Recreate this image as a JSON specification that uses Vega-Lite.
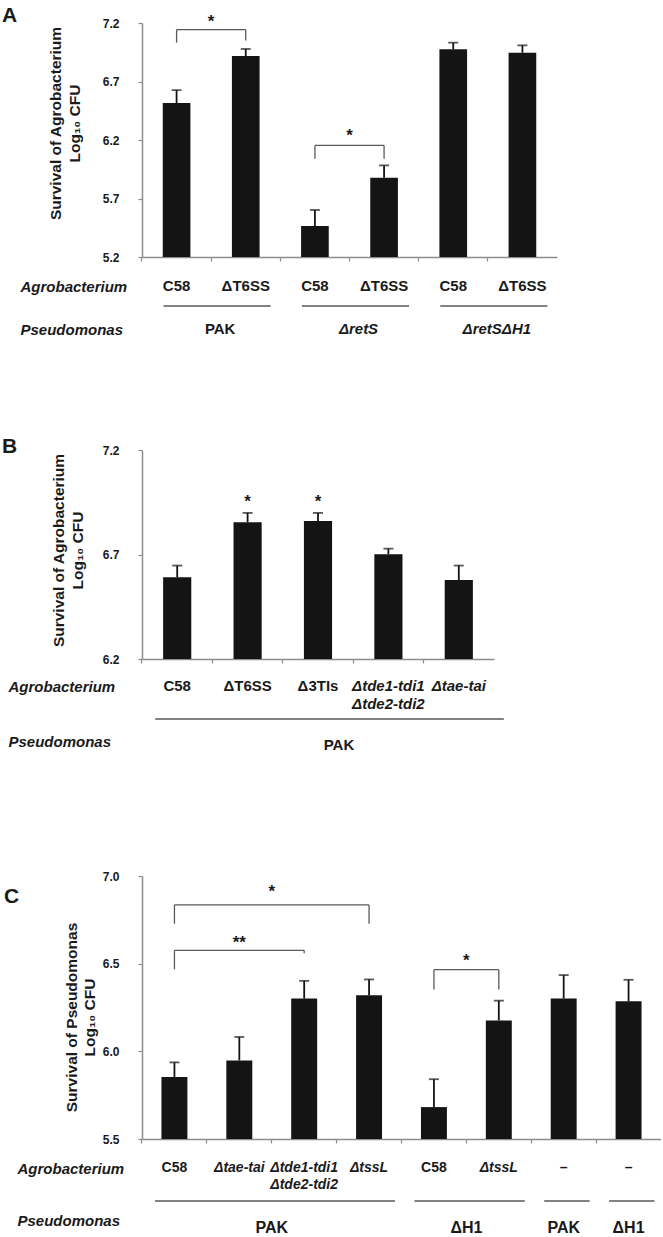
{
  "$schema": "https://vega.github.io/schema/vega-lite/v6.json",
  "background": "white",
  "padding": {"left": 2, "top": 5, "right": 0, "bottom": 0},
  "autosize": {"type": "pad"},
  "bounds": "flush",
  "spacing": 193,
  "config": {
    "font": "Liberation Sans",
    "view": {"stroke": null},
    "axis": {"domainColor": "#8c8c8c", "domainWidth": 1.5, "tickColor": "#8c8c8c", "tickWidth": 1.2, "tickSize": 4, "grid": false, "labelFont": "Liberation Sans", "labelFontSize": 12, "labelFontWeight": "bold", "labelColor": "#1a1a1a", "labelPadding": 19, "titleFont": "Liberation Sans", "titleFontSize": 15.5, "titleFontWeight": "bold", "titleColor": "#1a1a1a"},
    "text": {"font": "Liberation Sans", "fontWeight": "bold", "fontSize": 15, "color": "#1a1a1a"}
  },
  "datasets": {
    "barsA": [
      {"cat": "A1", "label": "C58", "value": 6.516, "upper": 6.627},
      {"cat": "A2", "label": "ΔT6SS", "value": 6.918, "upper": 6.978},
      {"cat": "A3", "label": "C58", "value": 5.465, "upper": 5.602},
      {"cat": "A4", "label": "ΔT6SS", "value": 5.878, "upper": 5.983},
      {"cat": "A5", "label": "C58", "value": 6.975, "upper": 7.032},
      {"cat": "A6", "label": "ΔT6SS", "value": 6.946, "upper": 7.009}
    ],
    "groupsA": [
      {"group": "PAK", "first": "A1", "last": "A2", "mid": "A1", "span": 2},
      {"group": "ΔretS", "first": "A3", "last": "A4", "mid": "A3", "span": 2},
      {"group": "ΔretSΔH1", "first": "A5", "last": "A6", "mid": "A5", "span": 2}
    ],
    "sigA": [
      {"from": "A1", "to": "A2", "mid": "A1", "span": 2, "top": 7.143, "footL": 7.032, "footR": 7.05, "star": "*", "starY": 7.162},
      {"from": "A3", "to": "A4", "mid": "A3", "span": 2, "top": 6.154, "footL": 6.04, "footR": 6.04, "star": "*", "starY": 6.193}
    ],
    "barsB": [
      {"cat": "B1", "label": "C58", "value": 6.591, "upper": 6.647},
      {"cat": "B2", "label": "ΔT6SS", "value": 6.854, "upper": 6.899},
      {"cat": "B3", "label": "Δ3TIs", "value": 6.86, "upper": 6.899},
      {"cat": "B4", "label": "Δtde1-tdi1\nΔtde2-tdi2", "value": 6.701, "upper": 6.728},
      {"cat": "B5", "label": "Δtae-tai", "value": 6.578, "upper": 6.647}
    ],
    "groupsB": [
      {"group": "PAK", "first": "B1", "last": "B5", "mid": "B3", "span": 5}
    ],
    "sigB": [
      {"mid": "B2", "span": 1, "star": "*", "starY": 6.925},
      {"mid": "B3", "span": 1, "star": "*", "starY": 6.925}
    ],
    "barsC": [
      {"cat": "C1", "label": "C58", "value": 5.854, "upper": 5.937},
      {"cat": "C2", "label": "Δtae-tai", "value": 5.948, "upper": 6.082},
      {"cat": "C3", "label": "Δtde1-tdi1\nΔtde2-tdi2", "value": 6.301, "upper": 6.402},
      {"cat": "C4", "label": "ΔtssL", "value": 6.32, "upper": 6.41},
      {"cat": "C5", "label": "C58", "value": 5.682, "upper": 5.841},
      {"cat": "C6", "label": "ΔtssL", "value": 6.176, "upper": 6.289},
      {"cat": "C7", "label": "–", "value": 6.301, "upper": 6.435},
      {"cat": "C8", "label": "–", "value": 6.285, "upper": 6.408}
    ],
    "groupsC": [
      {"group": "PAK", "first": "C1", "last": "C4", "mid": "C2", "span": 4},
      {"group": "ΔH1", "first": "C5", "last": "C6", "mid": "C5", "span": 2},
      {"group": "PAK", "first": "C7", "last": "C7", "mid": "C7", "span": 1},
      {"group": "ΔH1", "first": "C8", "last": "C8", "mid": "C8", "span": 1}
    ],
    "sigC": [
      {"from": "C1", "to": "C4", "mid": "C2", "span": 4, "top": 6.835, "footL": 6.728, "footR": 6.728, "star": "*", "starY": 6.881},
      {"from": "C1", "to": "C3", "mid": "C2", "span": 3, "top": 6.576, "footL": 6.468, "footR": 6.56, "star": "**", "starY": 6.592},
      {"from": "C5", "to": "C6", "mid": "C5", "span": 2, "top": 6.466, "footL": 6.353, "footR": 6.353, "star": "*", "starY": 6.484}
    ]
  },
  "vconcat": [
    {
      "width": 415,
      "height": 234,
      "title": {"text": "A", "anchor": "start", "frame": "group", "orient": "top", "offset": 0, "dx": -140, "dy": 30, "baseline": "alphabetic", "align": "left", "fontSize": 21, "fontWeight": "bold", "font": "Liberation Sans", "color": "#1a1a1a"},
      "layer": [
        {
          "data": {"name": "barsA"},
          "mark": {"type": "bar", "color": "#141414"},
          "encoding": {
            "x": {"field": "cat", "type": "nominal", "sort": null,
              "scale": {"domain": ["A1", "A2", "A3", "A4", "A5", "A6"], "paddingInner": 0.6, "paddingOuter": 0.3},
              "axis": {"title": ["Agrobacterium", "Pseudomonas"], "labels": false, "bandPosition": -0.75, "titleX": -122, "titleY": 34, "titleLineHeight": 43, "titleAlign": "left", "titleBaseline": "alphabetic", "titleFontStyle": "italic", "titleFontSize": 15}},
            "y": {"field": "value", "type": "quantitative",
              "scale": {"domain": [5.2, 7.2], "zero": false, "nice": false},
              "axis": {"title": ["Survival of Agrobacterium", "Log₁₀ CFU"], "values": [5.2, 5.7, 6.2, 6.7, 7.2], "format": ".1f", "titleX": -82, "titleY": 100, "titleAlign": "center", "titleBaseline": "alphabetic", "titleLineHeight": 19, "titleAngle": 270}},
            "y2": {"datum": 5.2}
          }
        },
        {
          "data": {"name": "barsA"},
          "mark": {"type": "rule", "color": "#141414", "strokeWidth": 1.8},
          "encoding": {
            "x": {"field": "cat", "type": "nominal"},
            "y": {"field": "value", "type": "quantitative"},
            "y2": {"field": "upper"}
          }
        },
        {
          "data": {"name": "barsA"},
          "mark": {"type": "tick", "color": "#141414", "size": 10, "thickness": 1.8},
          "encoding": {
            "x": {"field": "cat", "type": "nominal"},
            "y": {"field": "upper", "type": "quantitative"}
          }
        },
        {
          "data": {"name": "barsA"},
          "mark": {"type": "text", "baseline": "alphabetic", "align": "center", "lineBreak": "\n", "lineHeight": 18, "fontStyle": {"expr": "test(/Δ[a-z]/, datum.label) ? 'italic' : 'normal'"}},
          "encoding": {
            "x": {"field": "cat", "type": "nominal"},
            "y": {"datum": 4.909, "type": "quantitative"},
            "text": {"field": "label"}
          }
        },
        {
          "data": {"name": "groupsA"},
          "mark": {"type": "rule", "color": "#595959", "strokeWidth": 1.5},
          "encoding": {
            "x": {"field": "first", "type": "nominal", "bandPosition": 0.03},
            "x2": {"field": "last", "bandPosition": 1.4},
            "y": {"datum": 4.781, "type": "quantitative"}
          }
        },
        {
          "data": {"name": "groupsA"},
          "mark": {"type": "text", "baseline": "alphabetic", "align": "center", "dx": 9, "fontStyle": {"expr": "test(/Δ[a-z]/, datum.group) ? 'italic' : 'normal'"}},
          "encoding": {
            "x": {"field": "mid", "type": "nominal", "bandPosition": 1.75},
            "y": {"datum": 4.542, "type": "quantitative"},
            "text": {"field": "group"}
          }
        },
        {
          "data": {"name": "sigA"},
          "mark": {"type": "rule", "color": "#595959", "strokeWidth": 1.3},
          "encoding": {
            "x": {"field": "from", "type": "nominal"},
            "x2": {"field": "to"},
            "y": {"field": "top", "type": "quantitative"}
          }
        },
        {
          "data": {"name": "sigA"},
          "mark": {"type": "rule", "color": "#595959", "strokeWidth": 1.3},
          "encoding": {
            "x": {"field": "from", "type": "nominal"},
            "y": {"field": "top", "type": "quantitative"},
            "y2": {"field": "footL"}
          }
        },
        {
          "data": {"name": "sigA"},
          "mark": {"type": "rule", "color": "#595959", "strokeWidth": 1.3},
          "encoding": {
            "x": {"field": "to", "type": "nominal"},
            "y": {"field": "top", "type": "quantitative"},
            "y2": {"field": "footR"}
          }
        },
        {
          "data": {"name": "sigA"},
          "mark": {"type": "text", "baseline": "alphabetic", "align": "center", "fontSize": 17},
          "encoding": {
            "x": {"field": "mid", "type": "nominal", "bandPosition": 1.75},
            "y": {"field": "starY", "type": "quantitative"},
            "text": {"field": "star"}
          }
        }
      ]
    },
    {
      "width": 352,
      "height": 209,
      "title": {"text": "B", "anchor": "start", "frame": "group", "orient": "top", "offset": 0, "dx": -140, "dy": 30, "baseline": "alphabetic", "align": "left", "fontSize": 21, "fontWeight": "bold", "font": "Liberation Sans", "color": "#1a1a1a"},
      "layer": [
        {
          "data": {"name": "barsB"},
          "mark": {"type": "bar", "color": "#141414"},
          "encoding": {
            "x": {"field": "cat", "type": "nominal", "sort": null,
              "scale": {"domain": ["B1", "B2", "B3", "B4", "B5"], "paddingInner": 0.6, "paddingOuter": 0.3},
              "axis": {"title": ["Agrobacterium", "Pseudomonas"], "labels": false, "bandPosition": -0.75, "titleX": -134, "titleY": 32, "titleLineHeight": 55, "titleAlign": "left", "titleBaseline": "alphabetic", "titleFontStyle": "italic", "titleFontSize": 15}},
            "y": {"field": "value", "type": "quantitative",
              "scale": {"domain": [6.2, 7.2], "zero": false, "nice": false},
              "axis": {"title": ["Survival of Agrobacterium", "Log₁₀ CFU"], "values": [6.2, 6.7, 7.2], "format": ".1f", "titleX": -79, "titleY": 100, "titleAlign": "center", "titleBaseline": "alphabetic", "titleLineHeight": 19, "titleAngle": 270}},
            "y2": {"datum": 6.2}
          }
        },
        {
          "data": {"name": "barsB"},
          "mark": {"type": "rule", "color": "#141414", "strokeWidth": 1.8},
          "encoding": {
            "x": {"field": "cat", "type": "nominal"},
            "y": {"field": "value", "type": "quantitative"},
            "y2": {"field": "upper"}
          }
        },
        {
          "data": {"name": "barsB"},
          "mark": {"type": "tick", "color": "#141414", "size": 10, "thickness": 1.8},
          "encoding": {
            "x": {"field": "cat", "type": "nominal"},
            "y": {"field": "upper", "type": "quantitative"}
          }
        },
        {
          "data": {"name": "barsB"},
          "mark": {"type": "text", "baseline": "alphabetic", "align": "center", "lineBreak": "\n", "lineHeight": 18, "fontStyle": {"expr": "test(/Δ[a-z]/, datum.label) ? 'italic' : 'normal'"}},
          "encoding": {
            "x": {"field": "cat", "type": "nominal"},
            "y": {"datum": 6.047, "type": "quantitative"},
            "text": {"field": "label"}
          }
        },
        {
          "data": {"name": "groupsB"},
          "mark": {"type": "rule", "color": "#595959", "strokeWidth": 1.5},
          "encoding": {
            "x": {"field": "first", "type": "nominal", "bandPosition": -0.28},
            "x2": {"field": "last", "bandPosition": 2.1},
            "y": {"datum": 5.913, "type": "quantitative"}
          }
        },
        {
          "data": {"name": "groupsB"},
          "mark": {"type": "text", "baseline": "alphabetic", "align": "center", "dx": 21},
          "encoding": {
            "x": {"field": "mid", "type": "nominal", "bandPosition": 0.5},
            "y": {"datum": 5.765, "type": "quantitative"},
            "text": {"field": "group"}
          }
        },
        {
          "data": {"name": "sigB"},
          "mark": {"type": "text", "baseline": "alphabetic", "align": "center", "fontSize": 17},
          "encoding": {
            "x": {"field": "mid", "type": "nominal", "bandPosition": 0.5},
            "y": {"field": "starY", "type": "quantitative"},
            "text": {"field": "star"}
          }
        }
      ]
    },
    {
      "width": 519,
      "height": 287,
      "title": {"text": "C", "anchor": "start", "frame": "group", "orient": "top", "offset": 0, "dx": -138, "dy": 72, "baseline": "alphabetic", "align": "left", "fontSize": 21, "fontWeight": "bold", "font": "Liberation Sans", "color": "#1a1a1a"},
      "layer": [
        {
          "data": {"name": "barsC"},
          "mark": {"type": "bar", "color": "#141414"},
          "encoding": {
            "x": {"field": "cat", "type": "nominal", "sort": null,
              "scale": {"domain": ["C1", "C2", "C3", "C4", "C5", "C6", "C7", "C8"], "paddingInner": 0.6, "paddingOuter": 0.3},
              "axis": {"title": ["Agrobacterium", "Pseudomonas"], "labels": false, "bandPosition": -0.75, "titleX": -125, "titleY": 34, "titleLineHeight": 52, "titleAlign": "left", "titleBaseline": "alphabetic", "titleFontStyle": "italic", "titleFontSize": 15}},
            "y": {"field": "value", "type": "quantitative",
              "scale": {"domain": [5.5, 7.0], "range": [287, 24], "zero": false, "nice": false},
              "axis": {"title": ["Survival of Pseudomonas", "Log₁₀ CFU"], "values": [5.5, 6.0, 6.5, 7.0], "format": ".1f", "titleX": -66, "titleY": 165, "titleAlign": "center", "titleBaseline": "alphabetic", "titleLineHeight": 18, "titleAngle": 270}},
            "y2": {"datum": 5.5}
          }
        },
        {
          "data": {"name": "barsC"},
          "mark": {"type": "rule", "color": "#141414", "strokeWidth": 1.8},
          "encoding": {
            "x": {"field": "cat", "type": "nominal"},
            "y": {"field": "value", "type": "quantitative"},
            "y2": {"field": "upper"}
          }
        },
        {
          "data": {"name": "barsC"},
          "mark": {"type": "tick", "color": "#141414", "size": 10, "thickness": 1.8},
          "encoding": {
            "x": {"field": "cat", "type": "nominal"},
            "y": {"field": "upper", "type": "quantitative"}
          }
        },
        {
          "data": {"name": "barsC"},
          "mark": {"type": "text", "baseline": "alphabetic", "align": "center", "fontSize": 14, "lineBreak": "\n", "lineHeight": 17, "fontStyle": {"expr": "test(/Δ[a-z]/, datum.label) ? 'italic' : 'normal'"}},
          "encoding": {
            "x": {"field": "cat", "type": "nominal"},
            "y": {"datum": 5.312, "type": "quantitative"},
            "text": {"field": "label"}
          }
        },
        {
          "data": {"name": "groupsC"},
          "mark": {"type": "rule", "color": "#595959", "strokeWidth": 1.5},
          "encoding": {
            "x": {"field": "first", "type": "nominal", "bandPosition": -0.25},
            "x2": {"field": "last", "bandPosition": 1.5},
            "y": {"datum": 5.146, "type": "quantitative"}
          }
        },
        {
          "data": {"name": "groupsC"},
          "transform": [{"filter": "datum.span % 2 == 0"}],
          "mark": {"type": "text", "baseline": "alphabetic", "align": "center", "fontSize": 16},
          "encoding": {
            "x": {"field": "mid", "type": "nominal", "bandPosition": 1.75},
            "y": {"datum": 4.964, "type": "quantitative"},
            "text": {"field": "group"}
          }
        },
        {
          "data": {"name": "groupsC"},
          "transform": [{"filter": "datum.span % 2 == 1"}],
          "mark": {"type": "text", "baseline": "alphabetic", "align": "center", "fontSize": 16},
          "encoding": {
            "x": {"field": "mid", "type": "nominal", "bandPosition": 0.5},
            "y": {"datum": 4.964, "type": "quantitative"},
            "text": {"field": "group"}
          }
        },
        {
          "data": {"name": "sigC"},
          "mark": {"type": "rule", "color": "#595959", "strokeWidth": 1.3},
          "encoding": {
            "x": {"field": "from", "type": "nominal"},
            "x2": {"field": "to"},
            "y": {"field": "top", "type": "quantitative"}
          }
        },
        {
          "data": {"name": "sigC"},
          "mark": {"type": "rule", "color": "#595959", "strokeWidth": 1.3},
          "encoding": {
            "x": {"field": "from", "type": "nominal"},
            "y": {"field": "top", "type": "quantitative"},
            "y2": {"field": "footL"}
          }
        },
        {
          "data": {"name": "sigC"},
          "mark": {"type": "rule", "color": "#595959", "strokeWidth": 1.3},
          "encoding": {
            "x": {"field": "to", "type": "nominal"},
            "y": {"field": "top", "type": "quantitative"},
            "y2": {"field": "footR"}
          }
        },
        {
          "data": {"name": "sigC"},
          "transform": [{"filter": "datum.span % 2 == 0"}],
          "mark": {"type": "text", "baseline": "alphabetic", "align": "center", "fontSize": 17},
          "encoding": {
            "x": {"field": "mid", "type": "nominal", "bandPosition": 1.75},
            "y": {"field": "starY", "type": "quantitative"},
            "text": {"field": "star"}
          }
        },
        {
          "data": {"name": "sigC"},
          "transform": [{"filter": "datum.span % 2 == 1"}],
          "mark": {"type": "text", "baseline": "alphabetic", "align": "center", "fontSize": 17},
          "encoding": {
            "x": {"field": "mid", "type": "nominal", "bandPosition": 0.5},
            "y": {"field": "starY", "type": "quantitative"},
            "text": {"field": "star"}
          }
        }
      ]
    }
  ]
}
